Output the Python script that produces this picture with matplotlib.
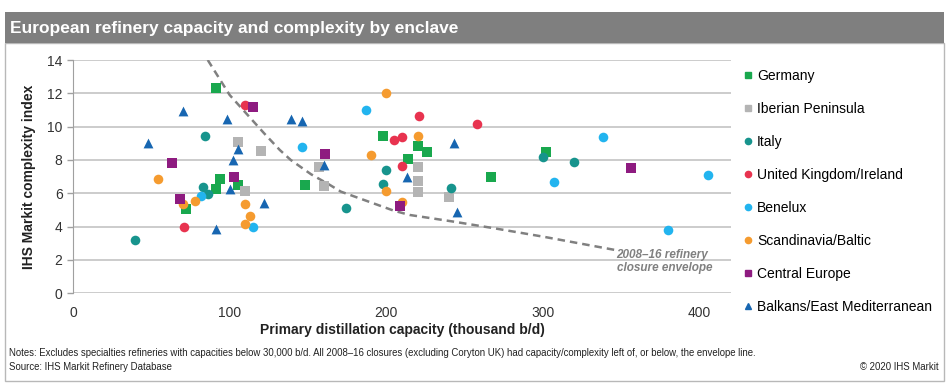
import matplotlib
matplotlib.use("Agg")
import matplotlib.pyplot as plt
from matplotlib.lines import Line2D
from matplotlib.patches import Rectangle

plt.rcParams['font.family'] = ['Liberation Sans', 'DejaVu Sans']

# Refinery data: (capacity thousand b/d, complexity index)
germany_x = [91, 94, 91, 105.5, 72, 198, 214, 148, 220, 226, 267, 302]
germany_y = [12.3, 6.85, 6.25, 6.5, 5.05, 9.45, 8.05, 6.5, 8.85, 8.45, 7.0, 8.45]

iberia_x = [105, 120, 110, 157, 160, 220, 220, 220, 240]
iberia_y = [9.1, 8.55, 6.15, 7.6, 6.45, 7.6, 6.75, 6.1, 5.8]

italy_x = [84, 83, 86, 39.5, 174, 200, 198, 241, 300, 320]
italy_y = [9.45, 6.4, 5.95, 3.2, 5.1, 7.4, 6.55, 6.3, 8.2, 7.9]

uk_x = [109.5, 205, 210, 210, 221, 258, 71]
uk_y = [11.3, 9.2, 9.35, 7.65, 10.65, 10.15, 4.0]

benelux_x = [82, 115, 146, 187, 307, 338, 380, 405]
benelux_y = [5.85, 3.95, 8.75, 11.0, 6.7, 9.35, 3.8, 7.1]

scand_x = [54, 70, 78, 110, 113, 110, 200, 190, 200, 210, 220]
scand_y = [6.85, 5.35, 5.55, 5.35, 4.65, 4.15, 12.0, 8.3, 6.15, 5.5, 9.45]

central_x = [63, 68, 103, 115, 161, 209, 356]
central_y = [7.8, 5.65, 7.0, 11.15, 8.35, 5.25, 7.5]

balkans_x = [70, 98, 48, 105, 102, 100, 91, 122, 139, 146, 160, 213, 243, 245]
balkans_y = [10.95, 10.45, 9.0, 8.65, 8.0, 6.25, 3.85, 5.4, 10.45, 10.35, 7.7, 7.0, 9.0, 4.85]

# Closure envelope line
envelope_x = [86, 100, 122, 132, 139, 152, 164, 171, 205, 215, 243, 269, 300, 346]
envelope_y = [14.0, 11.9, 9.6, 8.6, 8.0, 7.14, 6.5, 6.1, 4.95, 4.7, 4.3, 3.9, 3.4, 2.6]

series = [
    ("Germany", germany_x, germany_y, "s", "#19a84e", 62),
    ("Iberian Peninsula", iberia_x, iberia_y, "s", "#b4b4b4", 62),
    ("Italy", italy_x, italy_y, "o", "#17948d", 48),
    ("United Kingdom/Ireland", uk_x, uk_y, "o", "#e8334f", 48),
    ("Benelux", benelux_x, benelux_y, "o", "#22b4ef", 48),
    ("Scandinavia/Baltic", scand_x, scand_y, "o", "#f59b2f", 48),
    ("Central Europe", central_x, central_y, "s", "#8e1b80", 62),
    ("Balkans/East Mediterranean", balkans_x, balkans_y, "^", "#1766b1", 50),
]

fig = plt.figure(figsize=(9.5, 3.87), dpi=100)

# Title bar and frame
fig.patches.append(Rectangle((5 / 950, 1 - 381 / 387), 939 / 950, 338 / 387,
                             transform=fig.transFigure, fill=False,
                             edgecolor="#b8b8b8", lw=1))
fig.patches.append(Rectangle((5 / 950, 1 - 43 / 387), 939 / 950, 31 / 387,
                             transform=fig.transFigure, facecolor="#7f7f7f",
                             edgecolor="none"))
fig.text(10 / 950, 1 - 28 / 387, "European refinery capacity and complexity by enclave",
         color="white", fontsize=12.5, fontweight="bold", va="center", ha="left")

ax = fig.add_axes([73 / 950, 1 - 293.3 / 387, 658 / 950, 233.3 / 387])

for name, xs, ys, mk, col, size in series:
    ax.scatter(xs, ys, marker=mk, s=size, color=col, linewidths=0, zorder=3, label=name)

ax.plot(envelope_x, envelope_y, color="#808080", lw=1.8, dashes=(3, 2), zorder=2)
ax.text(347, 2.65, "2008\u201316 refinery\nclosure envelope", color="#808080",
        fontsize=8.5, fontstyle="italic", fontweight="bold", ha="left", va="top",
        linespacing=1.1)

ax.set_xlim(0, 420)
ax.set_ylim(0, 14)
ax.set_xticks([0, 100, 200, 300, 400])
ax.set_yticks(range(0, 15, 2))
ax.grid(axis="y", color="#c4c4c4", lw=1.2, zorder=0)
ax.set_axisbelow(True)
for s in ["top", "right", "bottom"]:
    ax.spines[s].set_visible(False)
ax.spines["left"].set_color("#a0a0a0")
ax.tick_params(axis="both", colors="#a0a0a0", labelcolor="#333333", labelsize=10,
               length=4, width=1)
ax.tick_params(axis="x", length=0, pad=9)

ax.set_xlabel("Primary distillation capacity (thousand b/d)", fontsize=10,
              fontweight="bold", color="#222222", labelpad=2)
ax.set_ylabel("IHS Markit complexity index", fontsize=10, fontweight="bold",
              color="#222222", labelpad=8)

# Legend
handles = [Line2D([], [], ls="none", marker=mk, color=col,
                  markersize=5 if mk == "s" else 4.5)
           for name, xs, ys, mk, col, size in series]
labels = [name for name, *_ in series]
fig.legend(handles, labels, loc="upper left", bbox_to_anchor=(743 / 950, 1 - 69 / 387),
           frameon=False, fontsize=10, handlelength=0.7, handletextpad=0.3,
           labelspacing=1.37, borderpad=0, borderaxespad=0)

fig.text(9 / 950, 1 - 353 / 387,
         "Notes: Excludes specialties refineries with capacities below 30,000 b/d. "
         "All 2008\u201316 closures (excluding Coryton UK) had capacity/complexity left of, "
         "or below, the envelope line.",
         fontsize=6.9, color="#222222", va="center")
fig.text(9 / 950, 1 - 367 / 387, "Source: IHS Markit Refinery Database",
         fontsize=6.9, color="#222222", va="center")
fig.text(939 / 950, 1 - 367 / 387, "\u00a9 2020 IHS Markit",
         fontsize=6.9, color="#222222", va="center", ha="right")

fig.savefig("out.png", dpi=100)
plt.close(fig)
